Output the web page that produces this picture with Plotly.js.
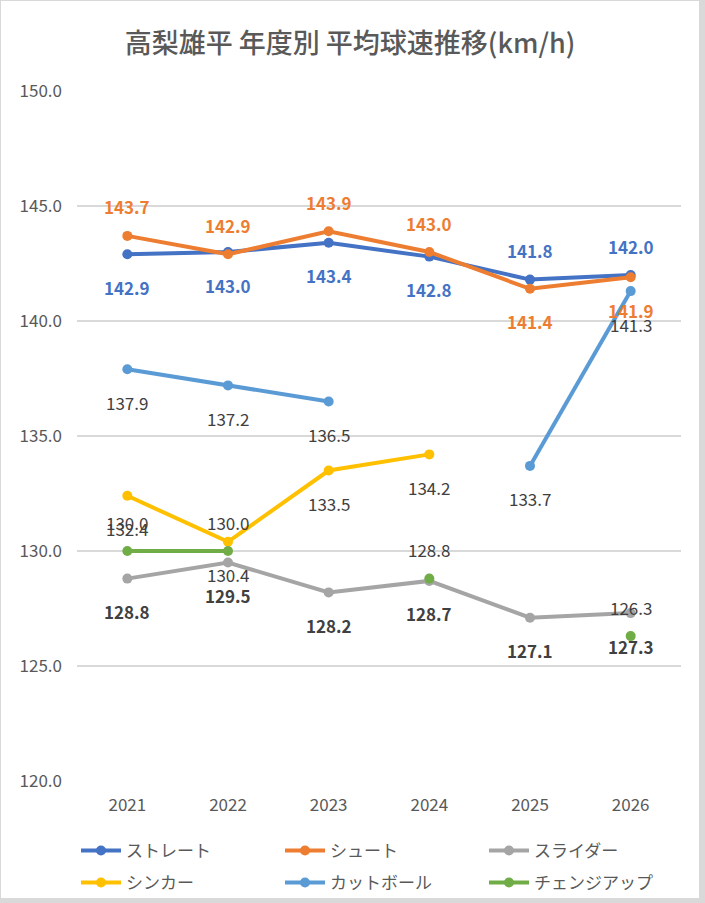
<!DOCTYPE html>
<html>
<head>
<meta charset="utf-8">
<script src="https://cdn.plot.ly/plotly-3.0.1.min.js"></script>
<style>
  html, body { margin: 0; padding: 0; background: #d9d9d9; }
  #chart { position: absolute; left: 1px; top: 1px; width: 698px; height: 897px; background: #fff; }
</style>
</head>
<body>
<div id="chart"></div>
<script>
// data
const years = ["2021", "2022", "2023", "2024", "2025", "2026"];
const straight = [142.9, 143.0, 143.4, 142.8, 141.8, 142.0];
const shoot = [143.7, 142.9, 143.9, 143.0, 141.4, 141.9];
const slider = [128.8, 129.5, 128.2, 128.7, 127.1, 127.3];
const sinker = [132.4, 130.4, 133.5, 134.2, null, null];
const cutter = [137.9, 137.2, 136.5, null, 133.7, 141.3];
const change = [130.0, 130.0, null, 128.8, null, 126.3];
const names = ["ストレート", "シュート", "スライダー", "シンカー", "カットボール", "チェンジアップ"];

// styles
const colors = ["#4472C4", "#ED7D31", "#A5A5A5", "#FFC000", "#5B9BD5", "#70AD47"];
const labelColor = ["#4472C4", "#ED7D31", "#404040", "#404040", "#404040", "#404040"];
const labelBold = [true, true, true, false, false, false];
// +1 = label above the point, -1 = below
const labelSide = [
  [-1, -1, -1, -1, 1, 1],
  [1, 1, 1, 1, -1, -1],
  [-1, -1, -1, -1, -1, -1],
  [-1, -1, -1, -1, -1, -1],
  [-1, -1, -1, -1, -1, -1],
  [1, 1, 1, 1, 1, 1]
];
// legend slots (container pixels): 3 columns x 2 rows
const legendX = [76, 280, 484];
const legendY = [851, 883];

const FONT = "'Noto Sans CJK JP', 'Noto Sans', sans-serif";
const W = 698, H = 897;
const series = [straight, shoot, slider, sinker, cutter, change];

let traces = series.map((vals, i) => ({
  x: years,
  y: vals,
  name: names[i],
  type: "scatter",
  mode: "lines+markers",
  connectgaps: false,
  line: {color: colors[i], width: 4},
  marker: {color: colors[i], size: 10},
  legend: i === 0 ? "legend" : "legend" + (i + 1),
  hoverinfo: "x+y+name"
}));

// data labels: x is the category index on the category axis
let annotations = [];
series.forEach((vals, i) => {
  vals.forEach((v, j) => {
    if (v === null) return;
    let side = labelSide[i][j];
    annotations.push({
      x: j,
      y: v,
      xref: "x",
      yref: "y",
      text: labelBold[i] ? "<b>" + v.toFixed(1) + "</b>" : v.toFixed(1),
      showarrow: false,
      yshift: side > 0 ? 29 : -33,
      font: {family: FONT, size: 17, color: labelColor[i]}
    });
  });
});

let layout = {
  width: W,
  height: H,
  margin: {l: 76, r: 18, t: 90, b: 117},
  paper_bgcolor: "#ffffff",
  plot_bgcolor: "#ffffff",
  title: {
    text: "高梨雄平 年度別 平均球速推移(km/h)",
    font: {family: FONT, size: 27, color: "#595959", weight: 500},
    x: 0.5,
    xanchor: "center",
    xref: "container",
    y: 1 - 43 / H,
    yanchor: "middle",
    yref: "container"
  },
  xaxis: {
    type: "category",
    range: [-0.5, 5.5],
    showgrid: false,
    zeroline: false,
    showline: false,
    ticks: "",
    ticklabelstandoff: 12,
    tickfont: {family: FONT, size: 17, color: "#595959"}
  },
  yaxis: {
    range: [120, 150],
    dtick: 5,
    tick0: 120,
    tickformat: ".1f",
    showgrid: true,
    gridcolor: "#D9D9D9",
    gridwidth: 1.5,
    zeroline: false,
    showline: false,
    ticks: "",
    ticklabelstandoff: 14,
    tickfont: {family: FONT, size: 17, color: "#595959"}
  },
  annotations: annotations,
  showlegend: true
};

// one legend per entry, placed in a 3x2 grid
names.forEach((n, i) => {
  let key = i === 0 ? "legend" : "legend" + (i + 1);
  layout[key] = {
    orientation: "h",
    xref: "container",
    yref: "container",
    xanchor: "left",
    yanchor: "middle",
    x: (legendX[i % 3] - 1) / W,
    y: 1 - (legendY[Math.floor(i / 3)] - 1) / H,
    itemwidth: 40,
    font: {family: FONT, size: 17, color: "#595959"},
    bgcolor: "rgba(0,0,0,0)"
  };
});

Plotly.newPlot("chart", traces, layout, {displayModeBar: false});
</script>
</body>
</html>
